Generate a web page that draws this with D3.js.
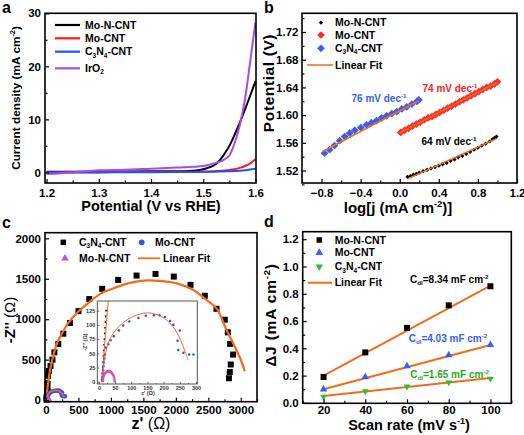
<!DOCTYPE html>
<html><head><meta charset="utf-8">
<script src="https://cdn.jsdelivr.net/npm/d3@7"></script>
<style>
body{margin:0;background:#fff}
svg{display:block}
text{font-family:'Liberation Sans',Arial,Helvetica,sans-serif;font-weight:bold}
</style>
</head><body>
<svg id="chart" width="524" height="435"></svg>
<script>
// ---------------- DATA ----------------
// Panel a: LSV curves
const aPotential = [1.20,1.25,1.30,1.35,1.40,1.45,1.48,1.50,1.51,1.52,1.53,1.54,1.55,1.56,1.57,1.58,1.59,1.60];
const aMoNCNT   = [0.10,0.12,0.15,0.18,0.20,0.20,0.30,0.60,0.90,1.30,2.10,3.40,5.00,7.10,9.40,11.9,14.5,17.2];
const aMoCNT    = [0.00,0.02,0.05,0.07,0.10,0.12,0.14,0.15,0.17,0.20,0.27,0.35,0.45,0.60,0.85,1.20,1.70,2.50];
const aC3N4CNT  = [0.00,0.00,0.00,0.03,0.05,0.07,0.09,0.10,0.12,0.14,0.16,0.19,0.22,0.27,0.33,0.42,0.55,0.70];
const aIrO2     = [-0.30,0.00,0.40,0.50,0.70,0.90,1.05,1.20,1.40,1.70,1.95,2.40,3.20,5.50,8.90,13.8,21.0,28.3];
const aXTicks = [1.2,1.3,1.4,1.5,1.6];
const aYTicks = [0,10,20,30];

// Panel b: Tafel plots
const bMoNLogJ = [0.08,0.11,0.14,0.17,0.20,0.24,0.28,0.32,0.36,0.40,0.44,0.48,0.52,0.56,0.60,0.64,0.68,0.72,0.76,0.80,0.84,0.88,0.92,0.95,0.97,0.99];
const bMoNPot  = [1.511,1.512,1.514,1.515,1.517,1.519,1.521,1.523,1.525,1.527,1.529,1.531,1.534,1.536,1.539,1.541,1.544,1.547,1.550,1.553,1.556,1.559,1.562,1.565,1.567,1.569];
const bMoLogJ  = [0.01,0.05,0.09,0.13,0.17,0.21,0.25,0.29,0.33,0.37,0.41,0.45,0.49,0.53,0.57,0.61,0.65,0.69,0.73,0.77,0.81,0.85,0.89,0.93,0.97,1.00];
const bMoPot   = [1.575,1.578,1.581,1.584,1.587,1.590,1.593,1.596,1.598,1.601,1.604,1.607,1.610,1.613,1.616,1.619,1.622,1.625,1.628,1.631,1.634,1.637,1.640,1.642,1.645,1.648];
const bC3LogJ  = [-0.770,-0.718,-0.667,-0.615,-0.564,-0.512,-0.460,-0.398,-0.340,-0.289,-0.237,-0.186,-0.134,-0.082,-0.031,0.021,0.072,0.124,0.175,0.196];
const bC3Pot   = [1.545,1.550,1.556,1.563,1.569,1.574,1.578,1.582,1.586,1.589,1.592,1.596,1.599,1.602,1.605,1.609,1.612,1.616,1.620,1.622];
const bFitMoN  = {x:[0.08,0.99], y:[1.508,1.566]};
const bFitMo   = {x:[0.00,1.00], y:[1.5745,1.6475]};
const bFitC3   = {x:[-0.787,0.193], y:[1.5475,1.6207]};
const bXTicks = [-0.8,-0.4,0.0,0.4,0.8,1.2];
const bYTicks = [1.52,1.56,1.60,1.64,1.68,1.72];

// Panel c: Nyquist plots
const cC3Re = [10,11,12,13,14,15,16,17,18,19,20,21,22,25,32,45,70,100,130,190,267,369,500,667,866,1112,1395,1687,1969,2226,2446,2626,2754,2800,2836,2882,2846,2831,2818];
const cC3Im = [5,15,25,35,45,55,65,75,85,95,105,115,125,200,300,360,420,500,590,694,821,953,1100,1249,1376,1486,1540,1560,1527,1425,1290,1129,994,838,695,563,440,348,270];
const cC3FitRe = [8,20,40,70,110,170,250,350,480,650,850,1000,1250,1500,1750,2000,2250,2470,2630,2780,2930,3010,3062];
const cC3FitIm = [0,120,250,400,540,700,830,960,1080,1200,1320,1370,1440,1478,1475,1446,1370,1240,1130,870,624,480,357];
const cC3InsetFitRe = [8,31];
const cC3InsetFitIm = [0,156];
const cMoRe = [10,11,12,13,14,15,17,19,21,29,36,46,62,75,94,122,145,170,187,204,220,230,250,243,245,261,279,292];
const cMoIm = [3,8,14,20,27,34,41,48,60,66,73,80,90,99,106,112,116,117,117,114,107,100,90,72,56,51,48,48];
const cMoFitRe = [12,13,15,18,23,30,45,65,90,120,150,180,210,235,255,268,276];
const cMoFitIm = [0,15,30,43,56,70,86,99,110,118,121,118,108,92,70,50,38];
const cMoNRe = [12,12.5,13,14,15,16.5,18,20,22,24,26,28,30,32,34,36,38,40,42,44,46,47,48,48.5];
const cMoNIm = [1,4,7,9.5,11.5,13,14.5,15.8,16.8,17.5,18,18.3,18.4,18.3,18,17.4,16.5,15.3,13.8,12,9.5,7,4,1];
const cMoNFitRe = [12,13,15,18,22,26,30,34,38,42,45,47,48.5];
const cMoNFitIm = [0,6,10.5,14,16.5,17.8,18.2,17.8,16.5,14,10.5,6,0];
const cXTicks = [0,500,1000,1500,2000,2500,3000];
const cYTicks = [0,500,1000,1500,2000];
const cInsetXTicks = [0,50,100,150,200,250,300];
const cInsetYTicks = [0,25,50,75,100,125];

// Panel d: double-layer capacitance
const dScan  = [20,40,60,80,100];
const dMoN   = [0.19,0.37,0.55,0.715,0.855];
const dMo    = [0.10,0.19,0.27,0.35,0.425];
const dC3N4  = [0.045,0.085,0.12,0.15,0.178];
const dFitX  = [20,100];
const dFitMoN = [0.20,0.86];
const dFitMo  = [0.10,0.425];
const dFitC3  = [0.05,0.182];
const dXTicks = [20,40,60,80,100];
const dYTicks = [0.0,0.2,0.4,0.6,0.8,1.0,1.2];

// ---------------- HELPERS ----------------
const svg = d3.select("#chart");
const ORANGE = "#f26b1d";
const TF = 11.5; // tick font

function parse(str){
  const re=/([\^_!])\{([^}]*)\}/g; const parts=[]; let last=0,m;
  while((m=re.exec(str))){ if(m.index>last) parts.push({t:str.slice(last,m.index)}); parts.push({t:m[2],k:m[1]}); last=re.lastIndex; }
  if(last<str.length) parts.push({t:str.slice(last)});
  return parts;
}
function addText(parent,x,y,str,size,opt={}){
  const t=parent.append("text").attr("x",x).attr("y",y).attr("font-size",size)
    .attr("text-anchor",opt.anchor||"start").attr("fill",opt.fill||"#000");
  if(opt.rotate) t.attr("transform",`rotate(${opt.rotate},${x},${y})`);
  if(opt.weight) t.attr("font-weight",opt.weight);
  if(opt.ls) t.attr("letter-spacing",opt.ls);
  let shift=0;
  parse(str).forEach(p=>{
    const target = p.k==='^' ? -size*0.38 : p.k==='_' ? size*0.22 : 0;
    const ts=t.append("tspan").text(p.t);
    if(target-shift) ts.attr("dy",target-shift);
    if(p.k==='^'||p.k==='_') ts.attr("font-size",size*0.62);
    if(p.k==='!') ts.attr("font-weight","normal");
    shift=target;
  });
  return t;
}
function minorBetween(ticks){
  const out=[]; for(let i=0;i<ticks.length-1;i++) out.push((ticks[i]+ticks[i+1])/2); return out;
}
function axes(g,x,y,o){
  const [x0,x1]=x.range(), [y0,y1]=y.range();
  const st=(s,fs)=>{ s.select(".domain").remove(); s.selectAll("line").attr("stroke","#000").attr("stroke-width",o.tw||1.2);
    s.attr("font-size",fs).attr("font-family",null); s.selectAll("text").attr("fill",o.tc||"#000").attr("font-weight",o.tweight||"bold"); };
  g.append("g").attr("transform",`translate(0,${y0})`)
    .call(d3.axisBottom(x).tickValues(o.xMinor).tickSize(-o.mn).tickFormat("")).call(s=>st(s,o.fs));
  g.append("g").attr("transform",`translate(0,${y0})`)
    .call(d3.axisBottom(x).tickValues(o.xTicks).tickSize(-o.mj).tickPadding(o.xpad).tickFormat(o.xFmt)).call(s=>st(s,o.fs));
  g.append("g").attr("transform",`translate(${x0},0)`)
    .call(d3.axisLeft(y).tickValues(o.yMinor).tickSize(-o.mn).tickFormat("")).call(s=>st(s,o.fs));
  g.append("g").attr("transform",`translate(${x0},0)`)
    .call(d3.axisLeft(y).tickValues(o.yTicks).tickSize(-o.mj).tickPadding(o.ypad).tickFormat(o.yFmt)).call(s=>st(s,o.fs));
  g.append("rect").attr("x",x0).attr("y",y1).attr("width",x1-x0).attr("height",y0-y1)
    .attr("fill","none").attr("stroke",o.fc||"#000").attr("stroke-width",o.sw||1.6);
}
function sym(g,type,size,cx,cy,fill,rot){
  g.append("path").attr("d",d3.symbol(type,size)())
   .attr("transform",`translate(${cx},${cy}) rotate(${rot||0})`).attr("fill",fill);
}
function pathXY(g,xs,ys,x,y,color,w,curve){
  const line=d3.line().x(d=>x(d[0])).y(d=>y(d[1])); if(curve) line.curve(curve);
  return g.append("path").attr("d",line(xs.map((v,i)=>[v,ys[i]]))).attr("fill","none")
    .attr("stroke",color).attr("stroke-width",w).attr("stroke-linejoin","round");
}

// ---------------- PANEL A ----------------
{
  const g=svg.append("g");
  const x=d3.scaleLinear([1.197,1.601],[45,256]);
  const y=d3.scaleLinear([-2,30],[183,13.3]);
  const series=[[aMoNCNT,"#000"],[aMoCNT,"#ff1a1a"],[aC3N4CNT,"#2050ff"],[aIrO2,"#a64de6"]];
  series.forEach(([vals,c])=>pathXY(g,aPotential,vals,x,y,c,2,d3.curveMonotoneX));
  axes(g,x,y,{xTicks:aXTicks,xMinor:minorBetween(aXTicks),yTicks:aYTicks,yMinor:minorBetween(aYTicks),
    xFmt:d3.format(".1f"),yFmt:d3.format("d"),mj:4,mn:2.5,xpad:5.5,ypad:4,fs:TF});
  const leg=[["Mo-N-CNT","#000",25],["Mo-CNT","#ff1a1a",38.3],["C_{3}N_{4}-CNT","#2050ff",51.7],["IrO_{2}","#a64de6",68.3]];
  leg.forEach(([t,c,yy])=>{
    g.append("line").attr("x1",55).attr("x2",80).attr("y1",yy).attr("y2",yy).attr("stroke",c).attr("stroke-width",2.2);
    addText(g,85,yy+3.7,t,10.5);
  });
  addText(g,151,210.5,"Potential (V vs RHE)",14.5,{anchor:"middle"});
  addText(g,19.5,98,"Current density (mA cm^{-2})",11.8,{anchor:"middle",rotate:-90});
  addText(g,2,13,"a",16);
}

// ---------------- PANEL B ----------------
{
  const g=svg.append("g");
  const x=d3.scaleLinear([-1.0,1.2],[302,517]);
  const y=d3.scaleLinear([1.502,1.747],[183,13.3]);
  const diam=(xs,ys,c,s)=>xs.forEach((v,i)=>sym(g,d3.symbolSquare,s,x(v),y(ys[i]),c,45));
  diam(bC3LogJ,bC3Pot,"#3a5cf0",30);
  diam(bMoLogJ,bMoPot,"#ff2a2a",30);
  diam(bMoNLogJ,bMoNPot,"#000",9);
  [bFitMoN,bFitMo,bFitC3].forEach(f=>pathXY(g,f.x,f.y,x,y,ORANGE,1.5));
  axes(g,x,y,{xTicks:bXTicks,xMinor:[-1.0,-0.6,-0.2,0.2,0.6,1.0],yTicks:bYTicks,yMinor:minorBetween(bYTicks).concat([1.50,1.74]),
    xFmt:d3.format(".1f"),yFmt:d3.format(".2f"),mj:4,mn:2.5,xpad:5.5,ypad:3.5,fs:TF});
  const leg=[["Mo-N-CNT","#000",22.7,9],["Mo-CNT","#ff2a2a",35,30],["C_{3}N_{4}-CNT","#3a5cf0",48.3,30]];
  leg.forEach(([t,c,yy,s])=>{ sym(g,d3.symbolSquare,s,321,yy,c,45); addText(g,335,yy+3.7,t,10.5); });
  g.append("line").attr("x1",307).attr("x2",333).attr("y1",65).attr("y2",65).attr("stroke",ORANGE).attr("stroke-width",1.5);
  addText(g,335,68.7,"Linear Fit",10.5);
  addText(g,379,102,"76 mV dec^{-1}",10,{anchor:"middle",fill:"#3a5cf0"});
  addText(g,450,91.5,"74 mV dec^{-1}",10,{anchor:"middle",fill:"#ff2020"});
  addText(g,449,145,"64 mV dec^{-1}",10,{anchor:"middle"});
  addText(g,398,213,"log[j (mA cm^{-2})]",15,{anchor:"middle"});
  addText(g,273.5,83,"Potential (V)",15.5,{anchor:"middle",rotate:-90,ls:0.6});
  addText(g,264,13,"b",16);
}

// ---------------- PANEL C ----------------
{
  const g=svg.append("g");
  const x=d3.scaleLinear([-15,3250],[45,257]);
  const y=d3.scaleLinear([-20,2070],[401.7,232.7]);
  cC3Re.forEach((v,i)=>sym(g,d3.symbolSquare,36,x(v),y(cC3Im[i]),"#000"));
  pathXY(g,cC3FitRe,cC3FitIm,x,y,ORANGE,2.2,d3.curveCatmullRom);
  cMoRe.forEach((v,i)=>sym(g,d3.symbolCircle,16,x(v),y(cMoIm[i]),"#3355ee"));
  pathXY(g,cMoFitRe,cMoFitIm,x,y,ORANGE,1.6,d3.curveCatmullRom);
  cMoNRe.forEach((v,i)=>sym(g,d3.symbolTriangle,12,x(v),y(cMoNIm[i]),"#c050e0"));
  pathXY(g,cMoNFitRe,cMoNFitIm,x,y,ORANGE,1.2,d3.curveCatmullRom);
  axes(g,x,y,{xTicks:cXTicks,xMinor:minorBetween(cXTicks).concat([3250]),yTicks:cYTicks,yMinor:minorBetween(cYTicks),
    xFmt:d3.format("d"),yFmt:d3.format("d"),mj:4,mn:2.5,xpad:4,ypad:4,fs:TF});
  // legend
  sym(g,d3.symbolSquare,30,63.3,242.3,"#000"); addText(g,79,246,"C_{3}N_{4}-CNT",10.5);
  sym(g,d3.symbolCircle,26,141.7,242.3,"#3355ee"); addText(g,155,246,"Mo-CNT",10.5);
  sym(g,d3.symbolTriangle,24,65,258.3,"#c050e0"); addText(g,79,262,"Mo-N-CNT",10.5);
  g.append("line").attr("x1",138).attr("x2",160).attr("y1",258.3).attr("y2",258.3).attr("stroke",ORANGE).attr("stroke-width",1.8);
  addText(g,163,262,"Linear Fit",10.5);
  addText(g,151,429,"z' !{(Ω)}",16,{anchor:"middle"});
  addText(g,15,320,"-Z'' !{(Ω)}",15,{anchor:"middle",rotate:-90});
  addText(g,2,228,"c",16);

  // inset
  const ix=d3.scaleLinear([-5,304],[97.3,197.3]);
  const iy=d3.scaleLinear([-4,142],[384,301]);
  g.append("rect").attr("x",97.3).attr("y",301).attr("width",100).attr("height",83).attr("fill","#fff");
  svg.append("clipPath").attr("id","insetClip").append("rect").attr("x",97.3).attr("y",301).attr("width",100).attr("height",83);
  const ig=g.append("g").attr("clip-path","url(#insetClip)");
  cC3Re.forEach((v,i)=>sym(ig,d3.symbolSquare,2.5,ix(v),iy(cC3Im[i]),"#000"));
  pathXY(ig,cC3InsetFitRe,cC3InsetFitIm,ix,iy,ORANGE,1);
  cMoRe.forEach((v,i)=>sym(ig,d3.symbolCircle,5,ix(v),iy(cMoIm[i]),"#2f50f0"));
  pathXY(ig,cMoFitRe,cMoFitIm,ix,iy,ORANGE,1,d3.curveCatmullRom);
  cMoNRe.forEach((v,i)=>sym(ig,d3.symbolTriangle,5,ix(v),iy(cMoNIm[i]),"#c050e0"));
  pathXY(ig,cMoNFitRe,cMoNFitIm,ix,iy,ORANGE,0.8,d3.curveCatmullRom);
  const ag=g.append("g");
  axes(ag,ix,iy,{xTicks:cInsetXTicks,xMinor:minorBetween(cInsetXTicks),yTicks:cInsetYTicks,yMinor:[],
    xFmt:d3.format("d"),yFmt:d3.format("d"),mj:2,mn:1,xpad:2,ypad:2,fs:5.5,tw:0.6,sw:0.9,fc:"#444",tc:"#333",tweight:"normal"});
  addText(g,148,395,"z' (Ω)",5.5,{anchor:"middle",fill:"#333",weight:"normal"});
  addText(g,87,342,"-Z'' (Ω)",5.5,{anchor:"middle",rotate:-90,fill:"#333",weight:"normal"});
}

// ---------------- PANEL D ----------------
{
  const g=svg.append("g");
  const x=d3.scaleLinear([10,110],[302.7,511.3]);
  const y=d3.scaleLinear([-0.003,1.255],[403.3,231.7]);
  [dFitMoN,dFitMo,dFitC3].forEach(f=>pathXY(g,dFitX,f,x,y,ORANGE,2));
  dScan.forEach((v,i)=>sym(g,d3.symbolSquare,36,x(v),y(dMoN[i]),"#000"));
  dScan.forEach((v,i)=>sym(g,d3.symbolTriangle,24,x(v),y(dMo[i]),"#3a5cff"));
  dScan.forEach((v,i)=>sym(g,d3.symbolTriangle,20,x(v),y(dC3N4[i]),"#33bb33",180));
  axes(g,x,y,{xTicks:dXTicks,xMinor:[10,30,50,70,90,110],yTicks:dYTicks,yMinor:minorBetween(dYTicks),
    xFmt:d3.format("d"),yFmt:d3.format(".1f"),mj:4,mn:2.5,xpad:3,ypad:4,fs:TF});
  sym(g,d3.symbolSquare,30,319.3,240,"#000"); addText(g,334.7,243.7,"Mo-N-CNT",10.5);
  sym(g,d3.symbolTriangle,26,319.3,252.7,"#3a5cff"); addText(g,334.7,256.4,"Mo-CNT",10.5);
  sym(g,d3.symbolTriangle,24,319.3,266.7,"#33bb33",180); addText(g,334.7,270.4,"C_{3}N_{4}-CNT",10.5);
  g.append("line").attr("x1",307.7).attr("x2",332).attr("y1",282.7).attr("y2",282.7).attr("stroke",ORANGE).attr("stroke-width",2);
  addText(g,334.7,286.4,"Linear Fit",10.5);
  addText(g,410,283,"C_{dl}=8.34 mF cm^{-2}",10);
  addText(g,408.7,341.5,"C_{dl}=4.03 mF cm^{-2}",10,{fill:"#3a5cff"});
  addText(g,410.3,378,"C_{dl}=1.65 mF cm^{-2}",10,{fill:"#1faa1f"});
  addText(g,409,429.5,"Scan rate (mV s^{-1})",14.5,{anchor:"middle"});
  addText(g,276,315,"ΔJ (mA cm^{-2})",15.5,{anchor:"middle",rotate:-90,ls:0.8});
  addText(g,264,227,"d",16);
}
</script>
</body></html>
